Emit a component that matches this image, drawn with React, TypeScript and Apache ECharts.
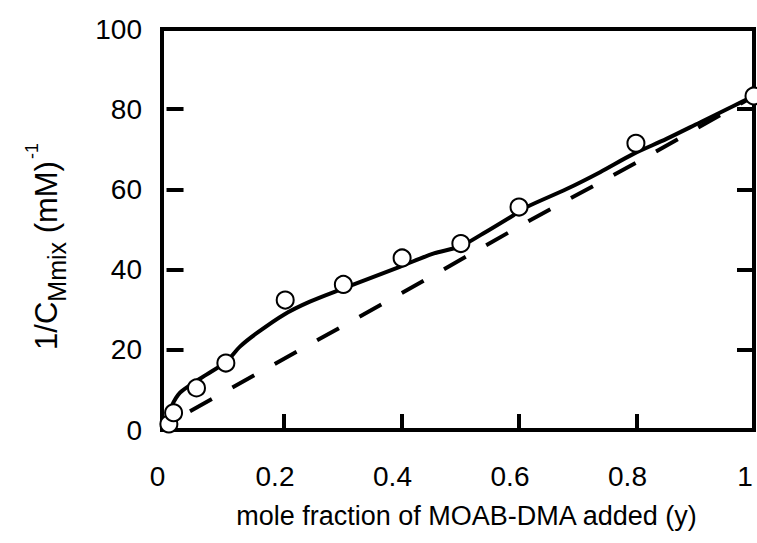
import React, { useEffect, useRef } from "react";
import * as echarts from "echarts";

// Measured points (open circles)
const pointX = [0.004, 0.012, 0.051, 0.101, 0.202, 0.301, 0.401, 0.501, 0.600, 0.799, 1.0];
const pointY = [1.5, 4.3, 10.5, 16.7, 32.4, 36.3, 42.9, 46.5, 55.6, 71.5, 83.3];

// Solid fitted curve (traced)
const solidX = [0.004, 0.009, 0.023, 0.046, 0.068, 0.102, 0.125, 0.154, 0.199, 0.244, 0.301, 0.397, 0.454, 0.5, 0.539, 0.59, 0.613, 0.681, 0.738, 0.794, 0.851, 0.908, 0.965, 1.0];
const solidY = [3.0, 6.0, 9.3, 11.75, 13.8, 17.1, 20.8, 24.2, 28.7, 32.0, 35.3, 40.7, 44.0, 45.8, 49.0, 53.5, 55.6, 60.1, 64.3, 68.8, 72.6, 76.7, 80.8, 83.3];

// Dashed line (traced)
const dashX = [0.04, 0.182, 0.4, 0.619, 0.8, 1.0];
const dashY = [4.7, 16.3, 34.1, 52.3, 66.7, 83.3];

const xTickValues = [0, 0.2, 0.4, 0.6, 0.8, 1.0];
const xTickLabels = ["0", "0.2", "0.4", "0.6", "0.8", "1"];
const yTickLabels = ["0", "20", "40", "60", "80", "100"];

const FONT = "Liberation Sans";

export default function App() {
  const ref = useRef<HTMLDivElement>(null);
  useEffect(() => {
    if (!ref.current) return;
    const chart = echarts.init(ref.current, null, { renderer: "svg" });
    const zip = (xs: number[], ys: number[]) => xs.map((x, i) => [x, ys[i]]);
    chart.setOption({
      animation: false,
      backgroundColor: "#ffffff",
      grid: {
        left: 162,
        right: 3,
        top: 29,
        bottom: 113,
        show: true,
        borderColor: "#000",
        borderWidth: 4,
        backgroundColor: "transparent",
      },
      xAxis: {
        type: "value",
        min: -0.0077,
        max: 1.0,
        axisLine: { show: false },
        splitLine: { show: false },
        axisTick: {
          show: true,
          inside: true,
          length: 16,
          lineStyle: { color: "#000", width: 4 },
          customValues: xTickValues.slice(1, 5),
        },
        axisLabel: {
          customValues: xTickValues,
          formatter: (v: number) => {
            const i = xTickValues.findIndex((t) => Math.abs(t - v) < 1e-6);
            return i >= 0 ? xTickLabels[i] : "";
          },
          fontFamily: FONT,
          fontSize: 28,
          color: "#000",
          margin: 32,
          padding: [0, 18, 0, 0],
        },
        name: "mole fraction of MOAB-DMA added (y)",
        nameLocation: "middle",
        nameGap: 72,
        nameTextStyle: {
          fontFamily: FONT,
          fontSize: 27,
          color: "#000",
          padding: [0, 0, 0, 17],
        },
      },
      yAxis: [
        {
          type: "value",
          min: 0,
          max: 100,
          interval: 20,
          axisLine: { show: false },
          splitLine: { show: false },
          axisTick: {
            show: true,
            inside: true,
            length: 17,
            lineStyle: { color: "#000", width: 4 },
          },
          axisLabel: {
            fontFamily: FONT,
            fontSize: 28,
            color: "#000",
            margin: 20,
            formatter: (v: number) => yTickLabels[Math.round(v / 20)] ?? "",
          },
          name: "{a|1/C}{b|Mmix}{a| (mM)}{c|-1}",
          nameLocation: "middle",
          nameRotate: 90,
          nameGap: 93,
          nameTextStyle: {
            color: "#000",
            padding: [0, 34, 0, 0],
            rich: {
              a: { fontFamily: FONT, fontSize: 31, color: "#000", verticalAlign: "top", padding: [9, 0, 0, 0] },
              b: { fontFamily: FONT, fontSize: 25, color: "#000", verticalAlign: "top", padding: [22, 0, 0, 0] },
              c: { fontFamily: FONT, fontSize: 18, color: "#000", verticalAlign: "top", padding: [1, 0, 0, 2] },
            },
          },
        },
        {
          type: "value",
          position: "right",
          min: 0,
          max: 100,
          interval: 20,
          axisLine: { show: false },
          splitLine: { show: false },
          axisLabel: { show: false },
          axisTick: {
            show: true,
            inside: true,
            length: 17,
            lineStyle: { color: "#000", width: 4 },
          },
        },
      ],
      series: [
        {
          type: "line",
          data: zip(dashX, dashY),
          showSymbol: false,
          symbol: "none",
          lineStyle: { color: "#000", width: 4, type: [25, 23.5] },
          z: 2,
          silent: true,
        },
        {
          type: "line",
          data: zip(solidX, solidY),
          showSymbol: false,
          symbol: "none",
          smooth: 0.3,
          lineStyle: { color: "#000", width: 4 },
          z: 3,
          silent: true,
        },
        {
          type: "scatter",
          data: zip(pointX, pointY),
          symbol: "circle",
          symbolSize: 17,
          itemStyle: { color: "#fff", borderColor: "#000", borderWidth: 2, opacity: 1 },
          z: 5,
          silent: true,
        },
      ],
    });
    return () => chart.dispose();
  }, []);
  return (
    <div
      ref={ref}
      style={{ position: "fixed", left: 0, top: 0, width: 757, height: 543 }}
    />
  );
}
